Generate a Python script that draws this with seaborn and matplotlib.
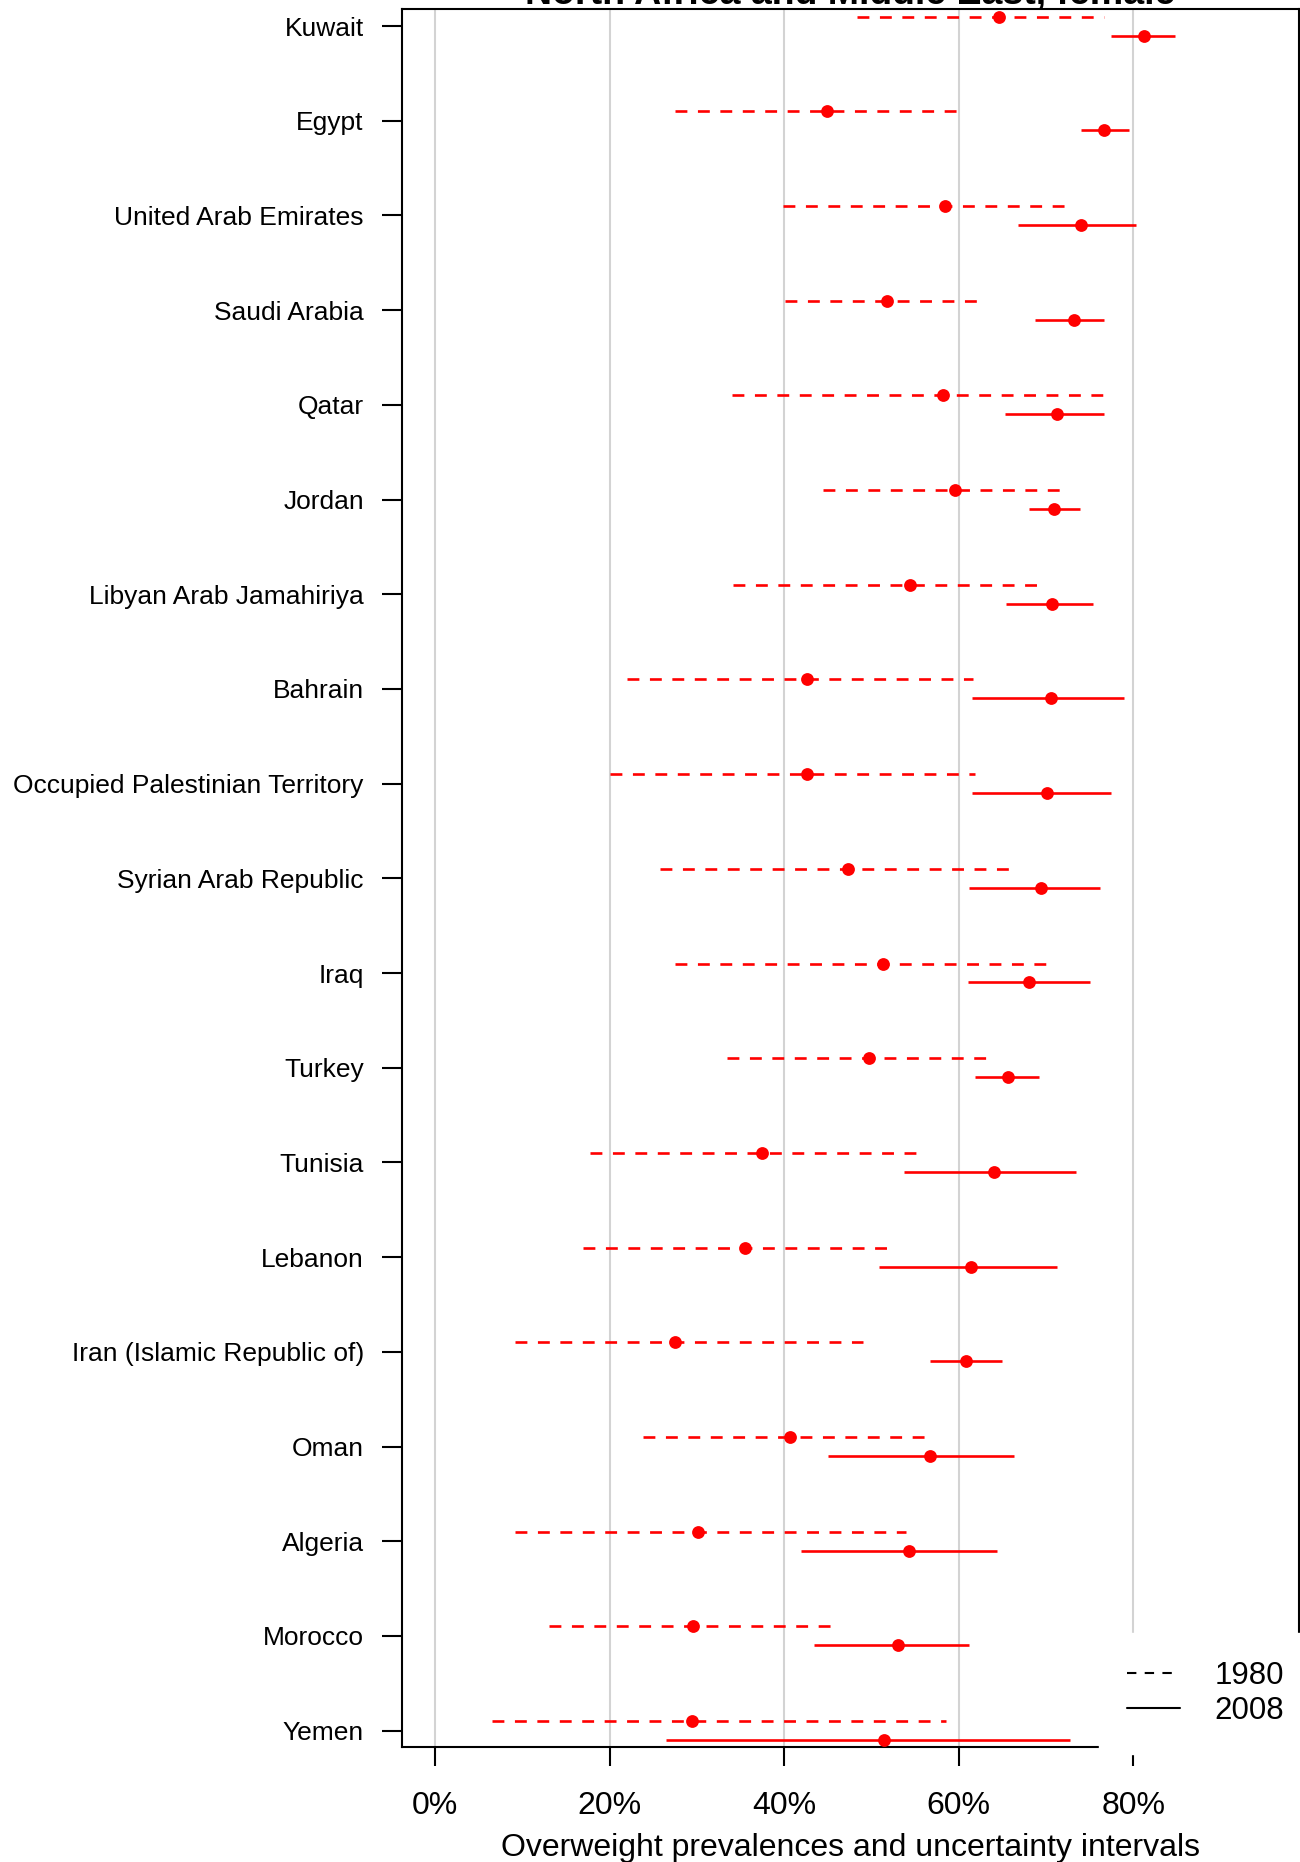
import matplotlib
matplotlib.use("Agg")
import matplotlib.pyplot as plt
from matplotlib.lines import Line2D
import numpy as np
import pandas as pd
import seaborn as sns


countries = ["Kuwait", "Egypt", "United Arab Emirates", "Saudi Arabia", "Qatar",
             "Jordan", "Libyan Arab Jamahiriya", "Bahrain",
             "Occupied Palestinian Territory", "Syrian Arab Republic", "Iraq",
             "Turkey", "Tunisia", "Lebanon", "Iran (Islamic Republic of)", "Oman",
             "Algeria", "Morocco", "Yemen"]

# 1980 estimate and uncertainty interval (%)
mid_1980 = [64.6, 44.9, 58.4, 51.8, 58.2, 59.6, 54.4, 42.6, 42.6, 47.3,
            51.3, 49.7, 37.5, 35.5, 27.5, 40.7, 30.1, 29.5, 29.4]
low_1980 = [48.3, 27.5, 39.9, 40.1, 34.0, 44.4, 34.1, 22.0, 20.0, 25.8,
            27.5, 33.5, 17.7, 17.0, 9.1, 23.8, 9.1, 13.1, 6.5]
high_1980 = [76.6, 60.4, 72.7, 62.7, 76.6, 72.4, 69.5, 61.6, 61.9, 65.8,
             70.3, 63.3, 55.5, 52.4, 49.0, 56.7, 54.0, 46.1, 58.5]

# 2008 estimate and uncertainty interval (%)
mid_2008 = [81.2, 76.7, 74.0, 73.2, 71.3, 70.9, 70.7, 70.6, 70.1, 69.4,
            68.0, 65.6, 64.1, 61.4, 60.8, 56.7, 54.3, 53.1, 51.4]
low_2008 = [77.4, 74.0, 66.8, 68.8, 65.3, 68.0, 65.4, 61.5, 61.5, 61.2,
            61.1, 61.9, 53.7, 50.9, 56.7, 45.0, 41.9, 43.4, 26.5]
high_2008 = [84.8, 79.5, 80.3, 76.7, 76.6, 73.9, 75.4, 79.0, 77.4, 76.2,
             75.0, 69.2, 73.5, 71.3, 65.0, 66.3, 64.4, 61.2, 72.8]

x_ticks = [0, 20, 40, 60, 80]
x_tick_labels = ["0%", "20%", "40%", "60%", "80%"]

sns.set_style("white")
plt.rcParams['font.family'] = ['Liberation Sans', 'DejaVu Sans']
plt.rcParams['text.color'] = 'black'
plt.rcParams['axes.labelcolor'] = 'black'
plt.rcParams['xtick.color'] = 'black'
plt.rcParams['ytick.color'] = 'black'

pos = np.arange(len(countries))
df = pd.concat([
    pd.DataFrame({"country": countries, "year": "1980", "y": pos - 0.1,
                  "mid": mid_1980, "low": low_1980, "high": high_1980}),
    pd.DataFrame({"country": countries, "year": "2008", "y": pos + 0.1,
                  "mid": mid_2008, "low": low_2008, "high": high_2008}),
])

fig = plt.figure(figsize=(13, 18.62), dpi=100)
ax = fig.add_axes([402 / 1300, 1 - 1747 / 1862, 897 / 1300, 1738 / 1862])

for v in x_ticks:
    ax.axvline(v, color="#D3D3D3", lw=1.5, zorder=0)

red = "#FF0000"
d80 = df[df.year == "1980"]
d08 = df[df.year == "2008"]
ax.hlines(d80.y, d80.low, d80.high, color=red, lw=1.9, linestyles=(0, (4.5, 4.0)), zorder=2)
ax.hlines(d08.y, d08.low, d08.high, color=red, lw=1.9, linestyles="solid", zorder=2)
sns.scatterplot(data=df, x="mid", y="y", color=red, s=85, linewidth=0,
                legend=False, ax=ax, zorder=3)

ax.set_xlim(-3.8, 99)
ax.set_ylim(len(countries) - 1 + 0.173, -0.18)
ax.set_yticks(pos)
ax.set_yticklabels(countries, fontsize=19)
ax.set_xticks(x_ticks)
ax.set_xticklabels(x_tick_labels, fontsize=23)
ax.tick_params(axis="y", length=14.5, width=1.5, pad=13, left=True)
ax.tick_params(axis="x", length=14, width=1.5, pad=18, bottom=True)
ax.set_ylabel("")
ax.set_xlabel("Overweight prevalences and uncertainty intervals", fontsize=23)
ax.xaxis.label.set_va("baseline")
ax.xaxis.set_label_coords(0.5, -0.0627)

for sp in ax.spines.values():
    sp.set_color("black")
    sp.set_linewidth(1.5)

fig.text(0.654, 1 - 4.5 / 1862, "North Africa and Middle East, female",
         fontsize=27, fontweight="bold", ha="center", va="baseline")

handles = [Line2D([], [], color="black", lw=1.5, linestyle=(0, (4.5, 4.0))),
           Line2D([], [], color="black", lw=1.5, linestyle="solid")]
leg = ax.legend(handles, ["1980", "2008"], loc="upper left",
                bbox_to_anchor=(0.777, 0.0656), borderaxespad=0, fontsize=22.5,
                frameon=True, fancybox=False, borderpad=0.9, handlelength=1.7,
                handletextpad=1.1, labelspacing=0.15)
leg.get_frame().set_facecolor("white")
leg.get_frame().set_edgecolor("white")
leg.get_frame().set_alpha(1)
leg.set_zorder(10)

fig.savefig("out.png", dpi=100)
